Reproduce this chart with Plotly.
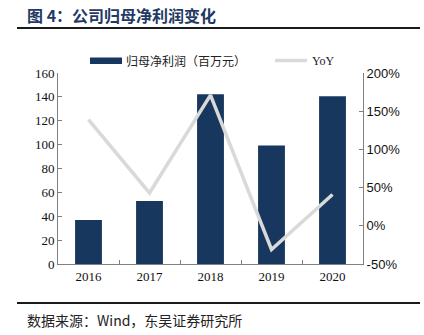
import plotly.graph_objects as go

years = ["2016", "2017", "2018", "2019", "2020"]
profit = [36.8, 52.7, 142.3, 99.3, 140.5]
yoy = [139, 43, 171, -31, 41]
left_ticks = [0, 20, 40, 60, 80, 100, 120, 140, 160]
right_ticks = [-50, 0, 50, 100, 150, 200]
right_labels = ["-50%", "0%", "50%", "100%", "150%", "200%"]

BAR = "#17375E"
LINE = "#D9D9D9"
AX = "#808080"
SERIF = "Liberation Serif, Times New Roman, serif"
SANS = "Liberation Sans, Arial, sans-serif"
CJK = "Noto Sans CJK SC"

# plot area in pixels: x 58..363, y 73..264
L, R, T, B = 58, 363, 73, 264
def px(x):
    return (x - L) / (R - L)
def py(y):
    return (B - y) / (B - T)

fig = go.Figure()
fig.add_trace(go.Bar(x=years, y=profit, marker=dict(color=BAR, line=dict(width=0)),
                     name="归母净利润（百万元）", showlegend=False))
fig.add_trace(go.Scatter(x=years, y=yoy, yaxis="y2", mode="lines",
                         line=dict(color=LINE, width=3.5), name="YoY", showlegend=False))

shapes = [
    dict(type="line", xref="paper", yref="paper", x0=px(17), x1=px(420), y0=py(28), y1=py(28),
         line=dict(color="#1a1a1a", width=2)),
    dict(type="line", xref="paper", yref="paper", x0=px(17), x1=px(420), y0=py(303), y1=py(303),
         line=dict(color="#1a1a1a", width=2)),
    dict(type="rect", xref="paper", yref="paper", x0=px(90), x1=px(122), y0=py(64), y1=py(57.5),
         fillcolor=BAR, line=dict(width=0)),
    dict(type="line", xref="paper", yref="paper", x0=px(275), x1=px(307), y0=py(60.5), y1=py(60.5),
         line=dict(color=LINE, width=3.5)),
]

annotations = [
    dict(text="<b>图 4：公司归母净利润变化</b>", xref="paper", yref="paper", x=px(25), y=py(15),
         xanchor="left", yanchor="middle", showarrow=False,
         font=dict(family=CJK, size=16, color="#1F3A64")),
    dict(text="数据来源：Wind，东吴证券研究所", xref="paper", yref="paper", x=px(25), y=py(320),
         xanchor="left", yanchor="middle", showarrow=False,
         font=dict(family=CJK, size=14, color="#222222")),
    dict(text="归母净利润（百万元）", xref="paper", yref="paper", x=px(124), y=py(61),
         xanchor="left", yanchor="middle", showarrow=False,
         font=dict(family=CJK, size=12, color="#222222")),
    dict(text="YoY", xref="paper", yref="paper", x=px(310), y=py(61),
         xanchor="left", yanchor="middle", showarrow=False,
         font=dict(family=SERIF, size=12, color="#222222")),
]

fig.update_layout(
    width=424, height=335,
    margin=dict(l=L, r=424 - R, t=T, b=335 - B),
    paper_bgcolor="white", plot_bgcolor="white",
    bargap=0.56,
    showlegend=False,
    shapes=shapes, annotations=annotations,
    xaxis=dict(type="category", showline=True, linecolor=AX, linewidth=1,
               ticks="inside", tickson="boundaries", ticklen=4, tickcolor=AX,
               showgrid=False, tickfont=dict(family=SERIF, size=13, color="#111111")),
    yaxis=dict(range=[0, 160], tickvals=left_ticks, showline=True, linecolor=AX, linewidth=1,
               ticks="inside", ticklen=4, tickcolor=AX, showgrid=False, zeroline=False,
               tickfont=dict(family=SERIF, size=13, color="#111111")),
    yaxis2=dict(range=[-50, 200], tickvals=right_ticks, ticktext=right_labels,
                overlaying="y", side="right", showline=True, linecolor=AX, linewidth=1,
                ticks="inside", ticklen=4, tickcolor=AX, showgrid=False, zeroline=False,
                tickfont=dict(family=SANS, size=13, color="#111111")),
)

fig.write_html("out.html")
